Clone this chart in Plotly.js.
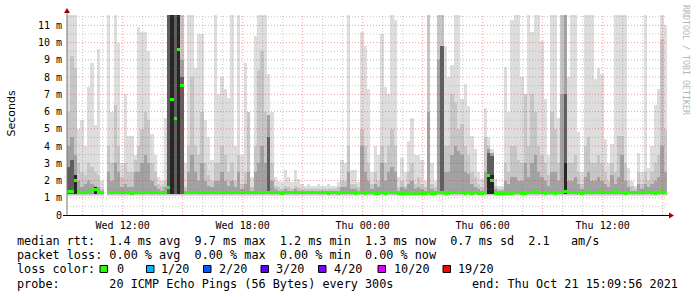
<!DOCTYPE html>
<html><head><meta charset="utf-8">
<script src="https://cdn.plot.ly/plotly-3.0.1.min.js"></script>
<style>html,body{margin:0;padding:0;background:#fff}</style>
</head><body><div id="chart" style="width:697px;height:297px"></div>
<script>
// 10-minute bins starting Wed 2021-10-20 09:13
const binCount = 180;
// top of the outer (lightest) smoke band
const smokeLight = [
 11.6,11.6,11.6,5,5.5,4,7.4,8.8,5.2,9.6,
 2,null,11.6,6,11.6,10,3,7,4.6,4.6,
 3.5,10.9,10.6,10.6,9.5,4.7,3.5,2.2,2.0,5.6,
 11.6,11.6,11.6,11.6,11.6,3,11.6,11.6,8.5,10.5,
 10.5,5.5,4.5,3.2,11.6,7.0,8.0,7.3,6.8,11.6,
 4,11.6,3.5,8.8,6,2.2,10.4,11.6,11.6,11.6,
 8.2,6,2.2,2,1.9,2.6,2.2,1.9,2.6,2.1,
 1.8,1.7,1.8,1.7,1.7,1.8,1.7,1.7,1.8,1.7,
 1.7,1.9,3.2,3,11.6,2.6,2.6,1.9,10.6,9.8,
 7.3,2.5,4.0,3.5,10.5,7.4,7,11.6,11.3,2.2,
 3.3,2.5,4.3,5.6,3.5,3.5,3.2,2,11.6,3,
 2,11.6,11.6,9.8,8.0,8.7,11.6,11.6,6.7,7.6,
 6.3,4.6,3.8,2.5,2.1,6.2,4.5,3.8,2.1,1.7,
 1.7,8.6,6,11.3,11.6,11.6,8,7,11.6,10.6,
 11.6,11.6,10.1,6.7,3.5,11.6,11.6,5.6,11.6,11.6,
 8,11.6,11.6,4.8,2.5,11.6,11.6,11.6,7.9,8.5,
 8.2,4.4,3,4.1,11.6,11.6,11.6,11.6,2.7,2,
 1.7,3.6,2.5,11.6,2.7,4,6.4,7.3,11.6,11
];
// middle smoke band tops
const smokeMid = [
 6,9.2,8.5,3,2.5,2.3,3,2.8,2.5,2.3,
 1.5,null,4,3,6.4,4,2.2,3,2.5,2.5,
 3.2,4,5,6,5.5,3,2.5,1.8,1.7,2,
 11.6,11.6,11.6,11.6,11.6,1.6,4,8,4,3.5,
 6,3,2.3,2,3,3,4,3.5,2.5,3,
 2,3.5,1.8,2.5,6,1.6,4,8.4,9.5,6,
 5.8,3,1.7,1.6,1.5,1.7,1.6,1.5,1.7,1.6,
 1.5,1.5,1.5,1.5,1.5,1.5,1.5,1.5,1.5,1.5,
 1.5,1.6,2,2,4,1.8,1.8,1.6,5,4,
 3,1.8,2.5,2,4,3,4,5,4,1.6,
 2,1.7,2.5,3,1.8,2.2,1.8,1.6,11.6,1.8,
 1.6,11.6,11.6,4,4,7,6.5,5,5.3,4,
 3.5,2.5,2.2,1.8,1.6,4.5,4,3.6,1.7,1.5,
 1.5,3,2.5,4,4,3.2,3,7,4,7,
 6,4,3.5,3,2.3,6,5,3,11.6,11.6,
 3,3,3.5,2.5,1.8,4,4.5,3,3,3.5,
 3,2.5,2,3,2.5,4.6,4.6,3,2,1.7,
 1.5,2.5,1.8,2.5,2,2.5,3,3.5,10.2,5
];
// inner smoke band tops
const smokeDark = [
 4,4.5,3.5,2,1.6,1.8,2,1.8,1.7,1.6,
 1.4,null,2.5,2,3,2.5,1.6,1.8,1.6,1.6,
 2.5,2.5,3,3.5,3,2,1.7,1.5,1.4,1.6,
 11.6,11.6,11.6,11.6,9,1.4,2.5,3.5,2.5,2,
 3,2,1.7,1.6,2,2,2.5,2,1.7,2,
 1.6,2.5,1.5,1.8,2.5,1.4,2.5,3,4,3,
 5.8,2,1.5,1.4,1.4,1.5,1.4,1.4,1.5,1.4,
 1.4,1.4,1.4,1.4,1.4,1.4,1.4,1.4,1.4,1.4,
 1.4,1.4,1.6,1.6,2.5,1.5,1.5,1.4,4,2.5,
 2,1.5,1.8,1.6,3,2,2.5,2.8,2.5,1.4,
 1.6,1.5,1.8,2,1.5,1.6,1.5,1.4,6,1.5,
 1.4,9,9.8,2.5,2.5,3.5,4,3.7,3.5,2.5,
 2.4,1.8,1.6,1.5,1.4,2.5,3.8,3.6,1.5,1.4,
 1.4,2,1.8,2.2,2.2,2,2,3,2.2,3,
 3.5,2.5,2.2,2,1.7,2.5,2.5,2,7,11.6,
 2,2,2.2,1.8,1.5,2.2,2.5,2,2,2.2,
 2,1.8,1.6,2.3,1.8,2.2,3.5,2,1.6,1.4,
 1.4,1.8,1.5,1.8,1.6,1.8,2,2.2,4,2.5
];
// deep smoke, only where present
const deepBins = [0, 1, 30, 31, 32, 33, 34, 60, 112, 126, 127, 149];
const deepTop  = [2.8, 3.2, 11.6, 11.6, 11.6, 11.6, 8, 4.5, 9.8, 3.6, 3.4, 7];
// darkest core, only where present
const coreBins = [2, 8, 31, 33, 126, 127, 149];
const coreTop  = [2.3, 1.6, 11.6, 11.6, 2.3, 2.3, 3];
// median rtt
const medianRtt = [
 1.35,1.35,2.0,1.35,1.3,1.3,1.35,1.45,1.5,1.35,
 1.3,null,1.3,1.32,1.3,1.28,1.3,1.3,1.28,1.25,
 1.3,1.3,1.32,1.3,1.3,1.28,1.3,1.3,1.3,1.3,
 1.6,6.7,5.6,9.6,7.5,1.3,1.3,1.28,1.3,1.3,
 1.32,1.3,1.3,1.28,1.3,1.3,1.3,1.28,1.3,1.3,
 1.3,1.28,1.3,1.3,1.28,1.3,1.3,1.3,1.3,1.3,
 1.28,1.3,1.28,1.3,1.25,1.3,1.3,1.3,1.28,1.3,
 1.3,1.3,1.28,1.3,1.3,1.28,1.3,1.28,1.25,1.28,
 1.28,1.25,1.3,1.28,1.3,1.28,1.25,1.28,1.3,1.25,
 1.3,1.28,1.25,1.25,1.3,1.25,1.28,1.28,1.3,1.25,
 1.25,1.25,1.22,1.25,1.22,1.25,1.25,1.25,1.3,1.25,
 1.25,1.28,1.3,1.25,1.25,1.28,1.3,1.3,1.28,1.25,
 1.28,1.25,1.3,1.25,1.25,1.3,2.3,2.0,1.25,1.25,
 1.25,1.25,1.22,1.25,1.28,1.3,1.25,1.25,1.3,1.28,
 1.35,1.3,1.28,1.25,1.28,1.3,1.25,1.28,1.3,1.35,
 1.3,1.28,1.3,1.3,1.25,1.3,1.35,1.3,1.28,1.28,
 1.35,1.3,1.28,1.3,1.35,1.3,1.28,1.25,1.28,1.3,
 1.3,1.28,1.3,1.3,1.35,1.3,1.25,1.3,1.38,1.32
];
const yTickVals = [0,1,2,3,4,5,6,7,8,9,10,11];
const yTickText = ['0','1 m','2 m','3 m','4 m','5 m','6 m','7 m','8 m','9 m','10 m','11 m'];
const lossLabels = ['0','1/20','2/20','3/20','4/20','10/20','19/20'];
const lossColors = ['#26ff00','#00b8ff','#0059ff','#5e00ff','#7e00ff','#dd00ff','#ff0000'];

const T0 = Date.UTC(2021,9,20,9,13);
const BIN = 600000;
function fmt(ms){ return new Date(ms).toISOString().slice(0,19).replace('T',' '); }
const times = [];
for (let i=0;i<binCount;i++) times.push(fmt(T0 + i*BIN + BIN/2));

function band(tops, floor, color, xs){
  return {type:'bar', x: xs || times, y: tops.map(v => v==null?null:v-floor), base: floor,
    width: BIN, marker:{color:color, line:{width:0}}, hoverinfo:'skip'};
}
const traces = [
  band(smokeLight, 1.12, '#dddddd'),
  band(smokeMid, 1.16, '#c6c6c6'),
  band(smokeDark, 1.2, '#a2a2a2'),
  band(deepTop, 1.2, '#5e5e5e', deepBins.map(i => times[i])),
  band(coreTop, 1.2, '#262626', coreBins.map(i => times[i])),
  {type:'bar', x: times, y: medianRtt.map(v => v==null?null:0.17),
   base: medianRtt.map(v => v==null?null:v-0.085), width: BIN,
   marker:{color:'#26ff00', line:{width:0}}, hoverinfo:'skip'}
];

// pixel helpers (plot area: x 67..667, y 15..215)
const px = x => (x-67)/600, py = y => (215-y)/200;
const shapes = [];
const GRID_RED = 'rgba(225,40,40,0.45)', GRID_GREY = 'rgba(120,120,120,0.4)';
for (let h = 10; h <= 39; h++) {
  const t = fmt(Date.UTC(2021,9,20,h,0));
  shapes.push({type:'line', layer:'above', xref:'x', yref:'paper', x0:t, x1:t, y0:0, y1:1,
    line:{color: h%3===0?GRID_RED:GRID_GREY, width:1, dash:'1px,2px'}});
}
for (let v = 0.5; v <= 11.5; v += 0.5) {
  shapes.push({type:'line', layer:'above', xref:'paper', yref:'y', x0:0, x1:1, y0:v, y1:v,
    line:{color: Number.isInteger(v)?GRID_RED:GRID_GREY, width:1, dash:'1px,2px'}});
}
shapes.push({type:'line', layer:'above', xref:'paper', yref:'paper', x0:px(67), x1:px(67), y0:py(215), y1:py(10), line:{color:'#777', width:1}});
shapes.push({type:'line', layer:'above', xref:'paper', yref:'paper', x0:px(63), x1:px(669), y0:py(215.5), y1:py(215.5), line:{color:'#000', width:1}});
shapes.push({type:'path', layer:'above', xref:'paper', yref:'paper',
  path:`M ${px(64)} ${py(13)} L ${px(70)} ${py(13)} L ${px(67)} ${py(8)} Z`, fillcolor:'#a00000', line:{width:0}});
shapes.push({type:'path', layer:'above', xref:'paper', yref:'paper',
  path:`M ${px(669)} ${py(212.5)} L ${px(669)} ${py(218.5)} L ${px(674)} ${py(215.5)} Z`, fillcolor:'#a00000', line:{width:0}});

const sqX = [100, 146.5, 203.5, 261, 318.5, 378, 443];
const lblX = [115, 159, 216.5, 274, 331.5, 391.5, 456];
sqX.forEach((x,i) => shapes.push({type:'rect', xref:'paper', yref:'paper',
  x0:px(x), x1:px(x+7.5), y0:py(272.5), y1:py(265.5), fillcolor:lossColors[i], line:{color:'#000', width:1}}));

const nb = s => s.replace(/ /g,'\u00a0');
const MONO = 'DejaVu Sans Mono';
const annotations = [];
function txt(x, y, s, opts){
  annotations.push(Object.assign({xref:'paper', yref:'paper', x:px(x), y:py(y), text:nb(s), showarrow:false,
    xanchor:'left', yanchor:'middle', font:{family:MONO, size:11.8, color:'#000'}}, opts||{}));
}
txt(15, 241, 'median rtt:  1.4 ms avg  9.7 ms max  1.2 ms min  1.3 ms now  0.7 ms sd  2.1   am/s');
txt(15, 255, 'packet loss: 0.00 % avg  0.00 % max  0.00 % min  0.00 % now');
txt(15, 269, 'loss color:');
lossLabels.forEach((l,i) => txt(lblX[i], 269, l));
txt(15, 283.5, 'probe:       20 ICMP Echo Pings (56 Bytes) every 300s');
txt(680, 283.5, 'end: Thu Oct 21 15:09:56 2021', {xanchor:'right'});
annotations.push({xref:'paper', yref:'paper', x:px(10.5), y:py(114), text:'Seconds', showarrow:false,
  textangle:-90, xanchor:'center', yanchor:'middle', font:{family:'DejaVu Sans', size:11, color:'#000'}});
annotations.push({xref:'paper', yref:'paper', x:px(686), y:py(60), text:nb('RRDTOOL / TOBI OETIKER'), showarrow:false,
  textangle:90, xanchor:'center', yanchor:'middle', font:{family:MONO, size:8.3, color:'#b4b4b4'}});

const layout = {
  width:697, height:297, margin:{l:67, r:30, t:15, b:82, pad:0},
  paper_bgcolor:'#fff', plot_bgcolor:'#fff', showlegend:false,
  barmode:'overlay', bargap:0,
  xaxis:{type:'date', range:['2021-10-20 09:13','2021-10-21 15:13'], tickformat:'%a %H:%M',
    tick0:'2021-10-20 12:00', dtick:21600000, showgrid:false, zeroline:false, showline:false,
    ticks:'', ticklabelstandoff:3, tickfont:{family:MONO, size:10, color:'#000'}, fixedrange:true},
  yaxis:{range:[0,11.6], tickvals:yTickVals, ticktext:yTickText, showgrid:false, zeroline:false,
    showline:false, ticks:'', ticklabelstandoff:4, tickfont:{family:MONO, size:10, color:'#000'}, fixedrange:true},
  shapes:shapes, annotations:annotations, hovermode:false
};
Plotly.newPlot('chart', traces, layout, {staticPlot:true, displayModeBar:false});
</script></body></html>
